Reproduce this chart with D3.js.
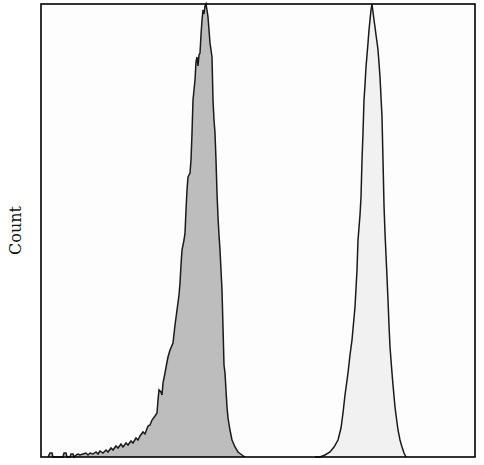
<!DOCTYPE html>
<html><head><meta charset="utf-8">
<script src="https://cdn.jsdelivr.net/npm/d3@7"></script>
<style>body{margin:0;background:#fff}svg{display:block}</style>
</head><body>
<svg id="chart" width="484" height="465"></svg>
<script>
// Channel values (x) and counts (y) for the isotype control (gray) histogram
const controlChannel = [3.5,4.5,5.5,6,11,11.5,12.5,13,14.5,15,16,16.5,17.5,18.5,19.5,21,22.5,23.5,24.5,26,27.5,28.5,29.5,31,32.5,33.5,35,36,37.5,38.5,40,41,42.5,43.5,45,46,47.5,48.5,49.5,51,52,53.5,54.5,55.5,57,58,58.5,59,60,60.5,61,62,63,63.5,64.5,66,67,68,69,69.5,70,70.5,71.5,72,72.5,73,73.5,74,74.5,75,75.5,76,77,77.5,78,78.5,79,79.5,80,80.5,81,81.5,82,82.5,83,83.5,84,84.5,85,85.5,86,86.5,87,87.5,88,88.5,89,89.5,90,90.5,91,91.5,92,92.5,93,93.5,94.5,95.5,97,98.5,100.5,102];
const controlCount = [0,8,8,0,0,8,8,0,0,6,6,0,4,6,4,6,8,4,8,6,10,6,12,8,14,10,18,14,22,18,26,20,28,24,32,28,38,34,42,50,46,62,64,74,82,88,114,134,130,124,148,168,190,200,214,228,264,294,324,348,384,414,434,448,494,534,560,564,568,594,648,714,754,790,800,782,804,808,844,874,894,886,902,906,894,880,854,828,814,800,714,674,648,594,528,480,444,414,374,334,260,184,168,134,100,78,54,34,20,10,4,0];
// Channel values and counts for the stained sample (light) histogram
const sampleChannel = [137,139.5,142,144.5,146.5,148.5,150,151,152,153.5,154.5,155.5,157,158,158.5,159.5,160,160.5,161,161.5,162,162.5,163,163.5,164,164.5,165,165.5,166,166.5,167,167.5,168,168.5,169,169.5,170,170.5,171,171.5,172,172.5,173,173.5,174,174.5,175,175.5,176,176.5,177,177.5,178.5,179.5,180.5,181.5,182.5];
const sampleCount = [0,0,4,10,20,34,58,88,124,168,204,234,300,374,434,484,520,594,648,714,744,780,804,828,854,874,894,906,890,874,860,844,830,814,788,760,720,680,594,504,448,404,360,314,264,220,194,168,144,122,100,84,54,34,20,8,0];
const yLabel = "Count";

const svg = d3.select("#chart");
const margin = {left: 41, top: 4, right: 9, bottom: 8};
const W = 484, H = 465;
const x = d3.scaleLinear().domain([0, 217]).range([margin.left, W - margin.right]);
const y = d3.scaleLinear().domain([0, 906]).range([H - margin.bottom, margin.top]);

svg.append("rect").attr("x", x(0)).attr("y", y(906)).attr("width", x(217) - x(0)).attr("height", y(0) - y(906)).attr("fill", "#fdfdfd");

const area = d3.area().x(d => x(d[0])).y0(y(0)).y1(d => y(d[1]));
const line = d3.line().x(d => x(d[0])).y(d => y(d[1]));

const ctrl = controlChannel.map((c, i) => [c, controlCount[i]]);
const samp = sampleChannel.map((c, i) => [c, sampleCount[i]]);

svg.append("path").datum(ctrl).attr("d", area).attr("fill", "#bdbdbd");
svg.append("path").datum(ctrl).attr("d", line).attr("fill", "none").attr("stroke", "#1a1a1a").attr("stroke-width", 1.5);
svg.append("path").datum(samp).attr("d", area).attr("fill", "#f1f1f1");
svg.append("path").datum(samp).attr("d", line).attr("fill", "none").attr("stroke", "#1a1a1a").attr("stroke-width", 1.5);

svg.append("rect").attr("x", x(0)).attr("y", y(906)).attr("width", x(217) - x(0)).attr("height", y(0) - y(906))
  .attr("fill", "none").attr("stroke", "#000").attr("stroke-width", 1.6);

svg.append("text").attr("transform", `translate(21,${(y(0) + y(906)) / 2}) rotate(-90)`)
  .attr("text-anchor", "middle").attr("font-family", "DejaVu Serif").attr("font-size", 16)
  .attr("fill", "#111").text(yLabel);
</script>
</body></html>
